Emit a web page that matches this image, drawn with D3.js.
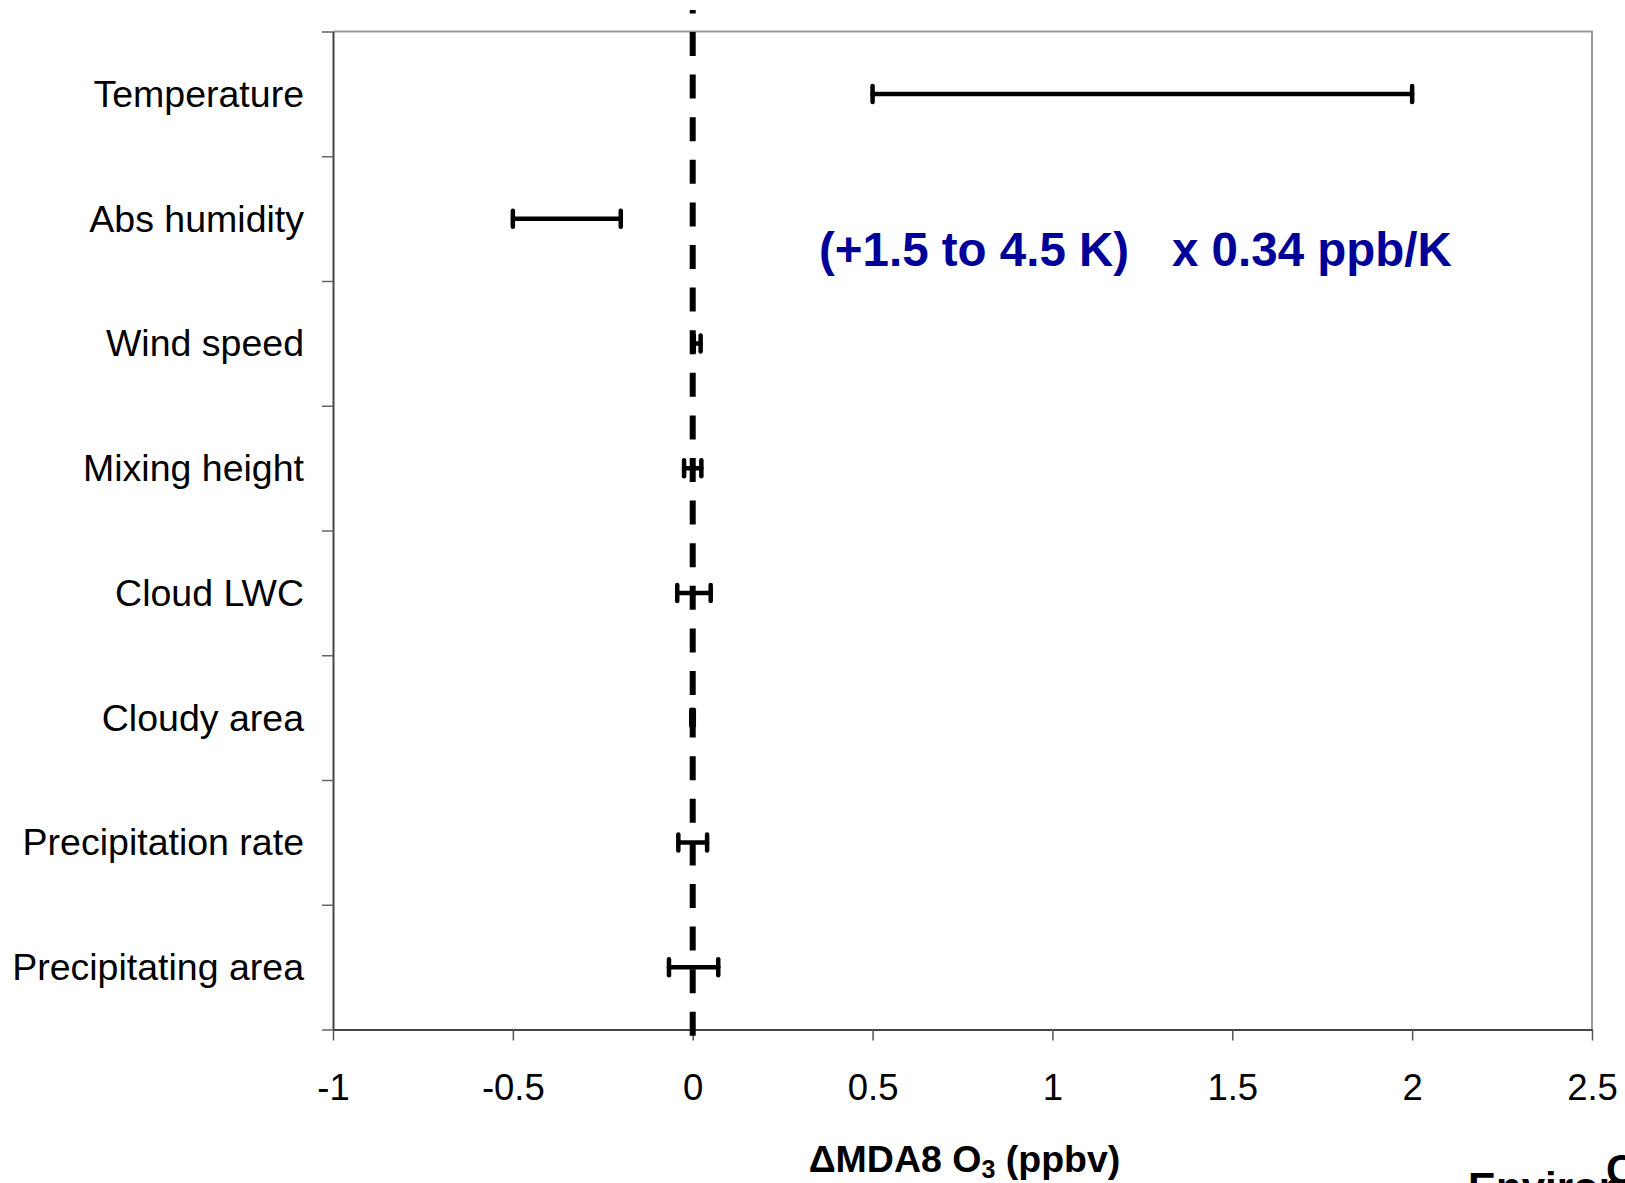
<!DOCTYPE html>
<html>
<head>
<meta charset="utf-8">
<script src="https://cdn.jsdelivr.net/npm/d3@7"></script>
<style>
  html, body { margin: 0; padding: 0; background: #fff; overflow: hidden; }
  svg { display: block; }
  text { font-family: "Liberation Sans", Arial, sans-serif; }
</style>
</head>
<body>
<script>
// ---- data ----
const categories = ["Temperature", "Abs humidity", "Wind speed", "Mixing height",
  "Cloud LWC", "Cloudy area", "Precipitation rate", "Precipitating area"];
const lowValues  = [0.5, -0.5, 0.003, -0.024, -0.043, -0.004, -0.040, -0.066];
const highValues = [2.0, -0.2, 0.022,  0.024,  0.050,  0.003,  0.040,  0.071];
const xTicks = [-1, -0.5, 0, 0.5, 1, 1.5, 2, 2.5];
const xDomain = [-1, 2.5];
const referenceValue = 0;
const annotationLeft = "(+1.5 to 4.5 K)";
const annotationRight = "x 0.34 ppb/K";

const W = 1625, H = 1183;
const pLeft = 333, pRight = 1592, pTop = 31.5, pBottom = 1029.5;

const svg = d3.select("body").append("svg").attr("width", W).attr("height", H);

const x = d3.scaleLinear().domain(xDomain).range([pLeft, pRight]);
const y = d3.scaleBand().domain(categories).range([pTop, pBottom]).padding(0);
const yEdges = d3.scaleLinear().domain([0, categories.length]).range([pTop, pBottom]);

// frame (top & right, gray)
svg.append("path")
  .attr("d", `M${pLeft},${pTop}H${pRight}V${pBottom}`)
  .attr("fill", "none").attr("stroke", "#999").attr("stroke-width", 2);

// left axis (ticks at band edges)
const yAxis = svg.append("g").attr("transform", `translate(${pLeft},0)`)
  .call(d3.axisLeft(yEdges).tickValues(d3.range(categories.length + 1)).tickFormat("").tickSize(11).tickSizeOuter(0));
yAxis.select(".domain").attr("stroke", "#444").attr("stroke-width", 2);
yAxis.selectAll(".tick line").attr("stroke", "#666").attr("stroke-width", 1.5);

// category labels
svg.append("g").selectAll("text").data(categories).join("text")
  .attr("x", 304)
  .attr("y", d => y(d) + y.bandwidth() / 2 + 13)
  .attr("text-anchor", "end")
  .attr("font-size", 37.5)
  .attr("fill", "#000")
  .text(d => d);

// bottom axis
const xAxis = svg.append("g").attr("transform", `translate(0,${pBottom})`)
  .call(d3.axisBottom(x).tickValues(xTicks).tickFormat(d => String(d)).tickSize(11).tickSizeOuter(0).tickPadding(34));
xAxis.select(".domain").attr("stroke", "#444").attr("stroke-width", 2);
xAxis.selectAll(".tick line").attr("stroke", "#555").attr("stroke-width", 1.5);
xAxis.selectAll(".tick text").attr("font-size", 36.5).attr("fill", "#000")
  .attr("font-family", "Liberation Sans, Arial, sans-serif");

// dashed reference line at 0
svg.append("line")
  .attr("x1", x(referenceValue)).attr("x2", x(referenceValue))
  .attr("y1", 10).attr("y2", 1036)
  .attr("stroke", "#000").attr("stroke-width", 6)
  .attr("stroke-dasharray", "24 18.6").attr("stroke-dashoffset", 20.6);

// error bars
const bars = categories.map((c, i) => ({ c, lo: lowValues[i], hi: highValues[i] }));
const g = svg.append("g").attr("stroke", "#000").attr("stroke-linecap", "round");
g.selectAll("line.bar").data(bars).join("line").attr("class", "bar")
  .attr("x1", d => x(d.lo)).attr("x2", d => x(d.hi))
  .attr("y1", d => y(d.c) + y.bandwidth() / 2).attr("y2", d => y(d.c) + y.bandwidth() / 2)
  .attr("stroke-width", 4.5);
const caps = bars.flatMap(d => [{ c: d.c, v: d.lo }, { c: d.c, v: d.hi }]);
g.selectAll("line.cap").data(caps).join("line").attr("class", "cap")
  .attr("x1", d => x(d.v)).attr("x2", d => x(d.v))
  .attr("y1", d => y(d.c) + y.bandwidth() / 2 - 8).attr("y2", d => y(d.c) + y.bandwidth() / 2 + 8)
  .attr("stroke-width", 4.5);

// annotation
svg.append("text").attr("x", 819).attr("y", 266)
  .attr("font-size", 47.5).attr("font-weight", "bold").attr("fill", "#000099")
  .text(annotationLeft);
svg.append("text").attr("x", 1172).attr("y", 266)
  .attr("font-size", 47.5).attr("font-weight", "bold").attr("fill", "#000099")
  .text(annotationRight);

// x title
const title = svg.append("text").attr("x", (pLeft + pRight) / 2 + 2).attr("y", 1172)
  .attr("text-anchor", "middle").attr("font-size", 37.5).attr("font-weight", "bold").attr("fill", "#000");
title.append("tspan").text("\u0394MDA8 O");
title.append("tspan").attr("font-size", 25).attr("dy", 6).text("3");
title.append("tspan").attr("dy", -6).text(" (ppbv)");

// partially visible logo text at bottom right (cut by the image edge, as in the reference)
svg.append("text").attr("x", 1468).attr("y", 1202).attr("font-size", 42).attr("font-weight", "bold").attr("fill", "#000").text("Environ");
svg.append("text").attr("x", 1606).attr("y", 1184).attr("font-size", 42).attr("font-weight", "bold").attr("fill", "#000").text("C");
</script>
</body>
</html>
